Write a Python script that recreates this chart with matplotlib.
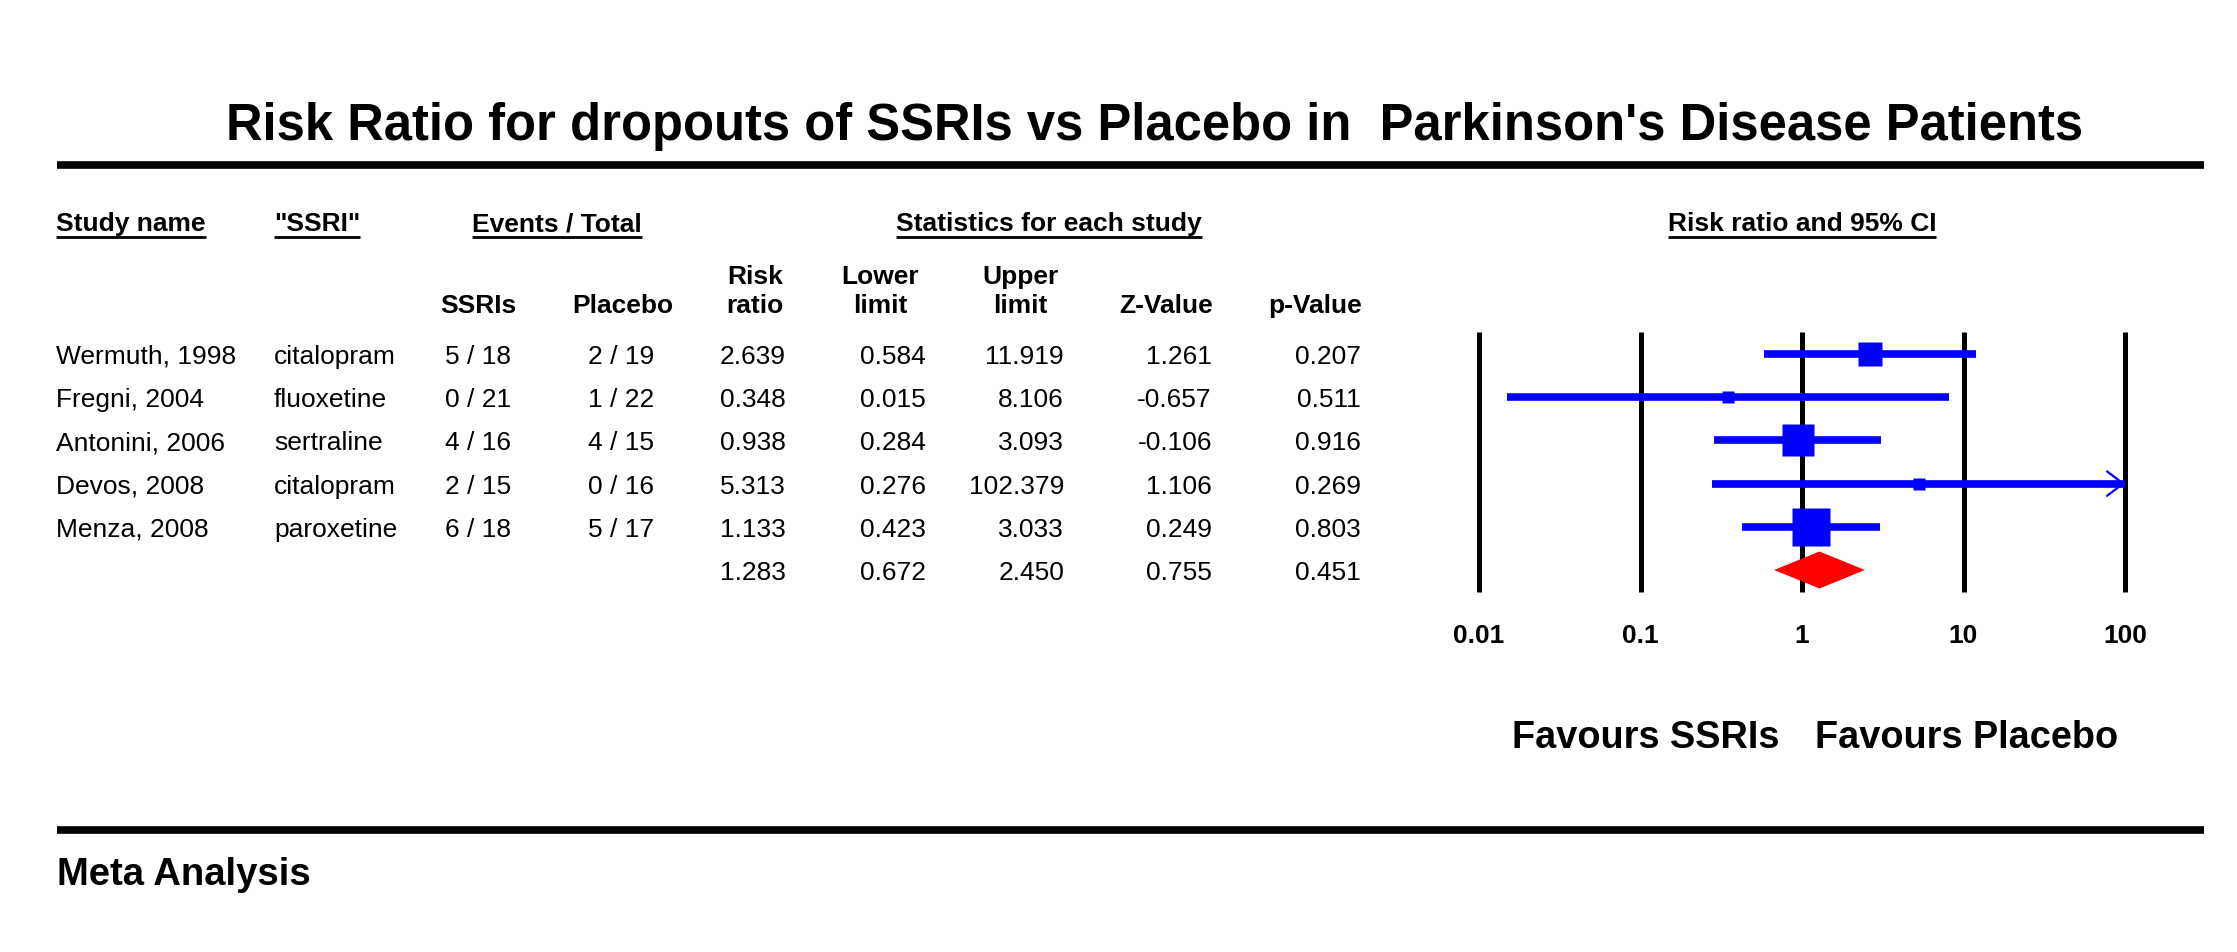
import numpy as np
import matplotlib
matplotlib.use("Agg")
import matplotlib.pyplot as plt

plt.rcParams['font.family'] = ['Liberation Sans', 'DejaVu Sans']

# data
studies = ["Wermuth, 1998", "Fregni, 2004", "Antonini, 2006", "Devos, 2008", "Menza, 2008"]
drugs = ["citalopram", "fluoxetine", "sertraline", "citalopram", "paroxetine"]
ssri_events = [5, 0, 4, 2, 6]
ssri_total = [18, 21, 16, 15, 18]
placebo_events = [2, 1, 4, 0, 5]
placebo_total = [19, 22, 15, 16, 17]
risk_ratio = [2.639, 0.348, 0.938, 5.313, 1.133]
lower_limit = [0.584, 0.015, 0.284, 0.276, 0.423]
upper_limit = [11.919, 8.106, 3.093, 102.379, 3.033]
z_value = [1.261, -0.657, -0.106, 1.106, 0.249]
p_value = [0.207, 0.511, 0.916, 0.269, 0.803]
# pooled estimate
summary = {"rr": 1.283, "lower": 0.672, "upper": 2.450, "z": 0.755, "p": 0.451}
tick_values = [0.01, 0.1, 1, 10, 100]
tick_labels = ["0.01", "0.1", "1", "10", "100"]

title = "Risk Ratio for dropouts of SSRIs vs Placebo in  Parkinson's Disease Patients"

W, H = 2237, 953
fig = plt.figure(figsize=(W / 100, H / 100), dpi=100)
fig.patch.set_facecolor("white")

# full-figure axes working in pixel coordinates (y down)
ax = fig.add_axes([0, 0, 1, 1])
ax.set_xlim(0, W)
ax.set_ylim(H, 0)
ax.axis("off")

# forest plot axes
x_left, x_right, y_top, y_bot = 1479, 2125, 333, 593
row0, row_h = 355, 43.2
fx = fig.add_axes([x_left / W, 1 - y_bot / H, (x_right - x_left) / W, (y_bot - y_top) / H])
fx.set_xscale("log")
fx.set_xlim(0.01, 100)
fx.set_ylim((y_bot - row0) / row_h, (y_top - row0) / row_h)
fx.axis("off")
fx.patch.set_alpha(0)

blue = "#0000ff"
red = "#ff0000"

for t in tick_values:
    fx.axvline(t, color="black", lw=3.6, zorder=1, clip_on=False, solid_capstyle="butt")

rows = np.arange(len(studies))
lo = np.clip(lower_limit, 0.01, 100)
hi = np.clip(upper_limit, 0.01, 100)
fx.hlines(rows, lo, hi, color=blue, lw=5.5, zorder=2, clip_on=False)

# box side follows the inverse-variance weight
se = (np.log(upper_limit) - np.log(lower_limit)) / (2 * 1.96)
weight = 1 / se ** 2
for i in rows:
    side_px = 19.0 * np.sqrt(weight[i])
    fx.plot(risk_ratio[i], i, marker="s", ms=side_px * 0.72, color=blue,
            mec="none", zorder=3, clip_on=False)
    if upper_limit[i] > 100:
        fx.annotate("", xy=(100, i), xytext=(40, i),
                    arrowprops=dict(arrowstyle="->,head_length=0.58,head_width=0.44",
                                    color=blue, lw=1.6, mutation_scale=20,
                                    shrinkA=0, shrinkB=0),
                    annotation_clip=False, zorder=3)

# summary diamond
ys = len(studies)
half = 18.5 / row_h
diamond = np.array([[summary["lower"], ys], [summary["rr"], ys - half],
                    [summary["upper"], ys], [summary["rr"], ys + half]])
fx.fill(diamond[:, 0], diamond[:, 1], color=red, lw=0, zorder=4, clip_on=False)

# title and rules
ax.text(1155, 140, title, ha="center", va="baseline", fontsize=36.5, fontweight="bold")
ax.plot([57, 2204], [166, 166], color="black", lw=5.5, solid_capstyle="butt")
ax.plot([57, 2204], [830.5, 830.5], color="black", lw=5.5, solid_capstyle="butt")
ax.text(57, 885, "Meta Analysis", ha="left", va="baseline", fontsize=27.5, fontweight="bold")

fs = 19
renderer = fig.canvas.get_renderer()


def underlined(x, y, s, ha):
    t = ax.text(x, y, s, ha=ha, va="baseline", fontsize=fs, fontweight="bold")
    bb = t.get_window_extent(renderer)
    ax.plot([bb.x0, bb.x1], [y + 6.5, y + 6.5], color="black", lw=2, solid_capstyle="butt")


x_1 = fx.transData.transform((1, 0))[0]
underlined(56, 231, "Study name", "left")
underlined(274, 231, '"SSRI"', "left")
underlined(557, 231, "Events / Total", "center")
underlined(1049, 231, "Statistics for each study", "center")
underlined(x_1, 231, "Risk ratio and 95% CI", "center")

sub_headers = ["SSRIs", "Placebo", "Risk\nratio", "Lower\nlimit", "Upper\nlimit", "Z-Value", "p-Value"]
sub_centers = [478, 623, 755, 880, 1020, 1166, 1315]
for s, xc in zip(sub_headers, sub_centers):
    lines = s.split("\n")
    for k, line in enumerate(reversed(lines)):
        ax.text(xc, 313 - 29 * k, line, ha="center", va="baseline", fontsize=fs, fontweight="bold")

# table body
col_right = [511, 654, 786, 926, 1064, 1212, 1361]
for i in rows:
    yb = row0 + row_h * i + 9
    ax.text(56, yb, studies[i], ha="left", va="baseline", fontsize=fs)
    ax.text(274, yb, drugs[i], ha="left", va="baseline", fontsize=fs)
    cells = [f"{ssri_events[i]} / {ssri_total[i]}", f"{placebo_events[i]} / {placebo_total[i]}",
             f"{risk_ratio[i]:.3f}", f"{lower_limit[i]:.3f}", f"{upper_limit[i]:.3f}",
             f"{z_value[i]:.3f}", f"{p_value[i]:.3f}"]
    for c, xr in zip(cells, col_right):
        ax.text(xr, yb, c, ha="right", va="baseline", fontsize=fs)

yb = row0 + row_h * ys + 9
for key, xr in zip(["rr", "lower", "upper", "z", "p"], col_right[2:]):
    ax.text(xr, yb, f"{summary[key]:.3f}", ha="right", va="baseline", fontsize=fs)

# axis labels under the forest plot
for t, lab in zip(tick_values, tick_labels):
    xp = fx.transData.transform((t, 0))[0]
    ax.text(xp, 643, lab, ha="center", va="baseline", fontsize=fs, fontweight="bold")

ax.text(x_1 - 23, 748, "Favours SSRIs", ha="right", va="baseline", fontsize=27.3, fontweight="bold")
ax.text(x_1 + 13, 748, "Favours Placebo", ha="left", va="baseline", fontsize=27.3, fontweight="bold")

fig.savefig("out.png", dpi=100)
